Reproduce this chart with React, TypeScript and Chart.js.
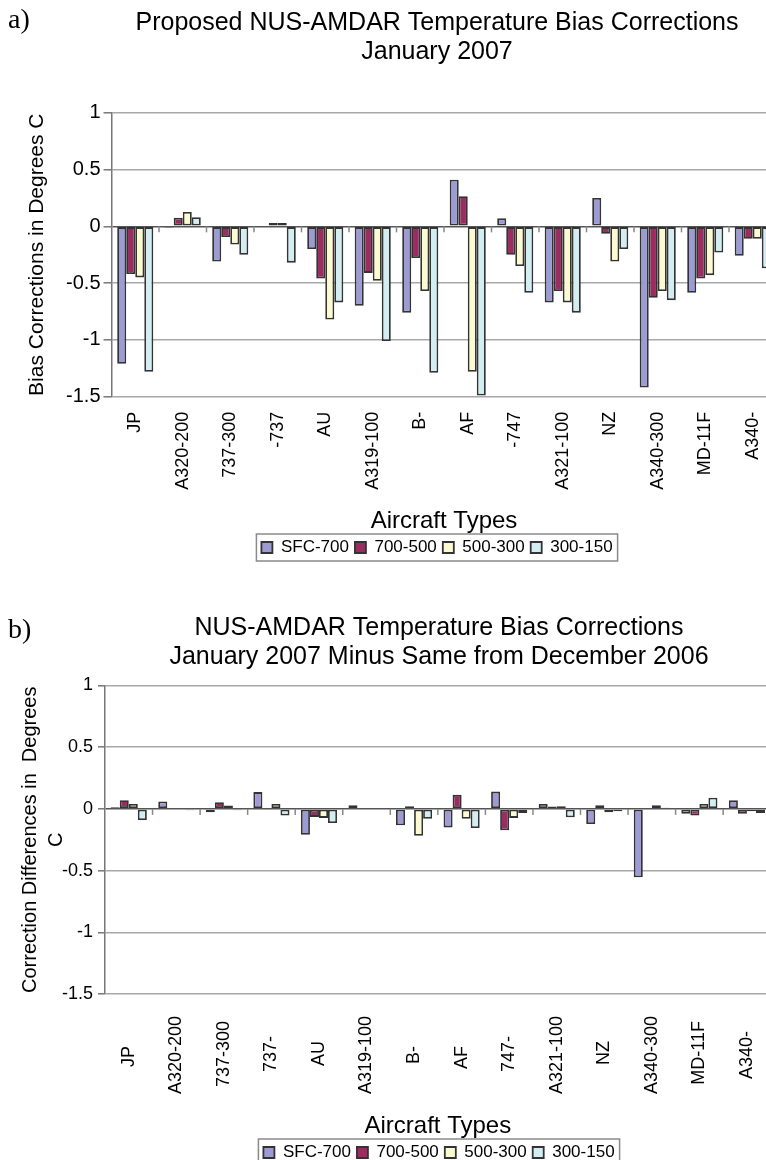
import React, { useEffect, useRef } from 'react';
import { Chart, registerables } from 'chart.js';
Chart.register(...registerables);

const FONT = "'Liberation Sans', Arial, Helvetica, sans-serif";
const SERIF = "'Liberation Serif', 'Times New Roman', serif";

// ---------- data ----------
const seriesNames = ['SFC-700', '700-500', '500-300', '300-150'];
const seriesColors = ['#9c9bd4', '#9b2c62', '#fcfad0', '#d2eef3'];

const categoriesA = ['JP', 'A320-200', '737-300', '-737', 'AU', 'A319-100', 'B-', 'AF', '-747', 'A321-100', 'NZ', 'A340-300', 'MD-11F', 'A340-'];
const sfc700A: (number | null)[] = [-1.21, -0.01, -0.31, null, -0.2, -0.7, -0.76, 0.41, 0.07, -0.67, 0.25, -1.42, -0.585, -0.26];
const p700500A: (number | null)[] = [-0.42, 0.076, -0.094, 0.03, -0.46, -0.41, -0.28, 0.265, -0.25, -0.57, -0.065, -0.63, -0.46, -0.11];
const p500300A: (number | null)[] = [-0.45, 0.126, -0.16, 0.03, -0.82, -0.48, -0.57, -1.28, -0.35, -0.67, -0.31, -0.57, -0.43, -0.11];
const p300150A: (number | null)[] = [-1.28, 0.08, -0.25, -0.32, -0.67, -1.01, -1.29, -1.49, -0.585, -0.76, -0.2, -0.65, -0.23, -0.37];

const categoriesB = ['JP', 'A320-200', '737-300', '737-', 'AU', 'A319-100', 'B-', 'AF', '747-', 'A321-100', 'NZ', 'A340-300', 'MD-11F', 'A340-'];
const sfc700B: (number | null)[] = [0.014, 0.06, -0.027, 0.136, -0.21, 0.03, -0.133, -0.15, 0.14, 0.04, -0.122, -0.554, -0.04, 0.07];
const p700500B: (number | null)[] = [0.07, null, 0.054, -0.005, -0.065, null, 0.022, 0.114, -0.174, 0.02, 0.03, null, -0.054, -0.04];
const p500300B: (number | null)[] = [0.04, null, 0.027, 0.04, -0.073, null, -0.217, -0.08, -0.073, 0.022, -0.027, 0.03, 0.04, -0.02];
const p300150B: (number | null)[] = [-0.09, -0.01, -0.01, -0.054, -0.114, null, -0.08, -0.155, -0.033, -0.068, -0.02, 0.01, 0.09, -0.033];

const titleA = ['Proposed NUS-AMDAR Temperature Bias Corrections', 'January 2007'];
const titleB = ['NUS-AMDAR Temperature Bias Corrections', 'January 2007 Minus Same from December 2006'];
const yTitleA = 'Bias Corrections in Degrees C';
const yTitleB = ['Correction Differences in  Degrees', 'C'];
const xTitle = 'Aircraft Types';
const yMin = -1.5;
const yMax = 1;
const yStep = 0.5;

interface PanelProps {
  labels: string[];
  data: (number | null)[][];
  titleLines: string[];
  tag: string;
  yTitle: string | string[];
  top: number;
  width: number;
  height: number;
  yAxisWidth: number;
  spacer: number;
  titlePadTop: number;
  titlePadBottom: number;
  xAxisHeight: number;
  yTitlePad: number;
  yTitleSize: number;
  yTitleLineHeight: number;
  yTickSize: number;
  tickLength: number;
  tickPadding: number;
  xLabelPadding: number;
  centerLabels: boolean;
  tagY: number;
}

function padLabels(labels: string[], font: string, center: boolean): string[] {
  if (!center) return labels;
  const ctx = document.createElement('canvas').getContext('2d');
  if (!ctx) return labels;
  ctx.font = font;
  const widths = labels.map((l) => ctx.measureText(l).width);
  const max = Math.max(...widths);
  const sp = ctx.measureText(' ').width || 5;
  return labels.map((l, i) => l + ' '.repeat(Math.max(0, Math.round((max - widths[i]) / 2 / sp))));
}

function Panel(p: PanelProps) {
  const ref = useRef<HTMLCanvasElement | null>(null);
  useEffect(() => {
    const canvas = ref.current;
    if (!canvas) return;
    const xFontSize = 18;
    const shown = padLabels(p.labels, `${xFontSize}px ${FONT}`, p.centerLabels);

    const deco = {
      id: 'deco',
      beforeDatasetsDraw(chart: any) {
        const ctx = chart.ctx;
        const xs = chart.scales.x;
        const ys = chart.scales.y;
        const y0 = ys.getPixelForValue(0);
        const n = p.labels.length;
        const step = (xs.right - xs.left) / n;
        ctx.save();
        ctx.strokeStyle = '#888';
        ctx.lineWidth = 1.5;
        for (let i = 1; i < n; i++) {
          const x = xs.left + i * step;
          ctx.beginPath();
          ctx.moveTo(x, y0);
          ctx.lineTo(x, y0 + 6);
          ctx.stroke();
        }
        ctx.restore();
      },
      afterDraw(chart: any) {
        const ctx = chart.ctx;
        const lg = chart.legend;
        const hb = lg && lg.legendHitBoxes;
        ctx.save();
        if (hb && hb.length) {
          let l = Infinity;
          let r = -Infinity;
          hb.forEach((h: any) => {
            l = Math.min(l, h.left);
            r = Math.max(r, h.left + h.width);
          });
          const t = hb[0].top;
          const h = hb[0].height;
          ctx.strokeStyle = '#8a8a8a';
          ctx.lineWidth = 1.5;
          ctx.strokeRect(l - 5, t - 5, r - l + 10, h + 10);
        }
        ctx.fillStyle = '#000';
        ctx.font = `28px ${SERIF}`;
        ctx.textBaseline = 'middle';
        ctx.textAlign = 'left';
        ctx.fillText(p.tag, 8, p.tagY);
        ctx.restore();
      },
    };

    const chart = new Chart(canvas, {
      type: 'bar',
      data: {
        labels: shown,
        datasets: seriesNames.map((name, i) => ({
          label: name,
          data: p.data[i],
          backgroundColor: seriesColors[i],
          borderColor: '#333333',
          borderWidth: 1.8,
          borderSkipped: false,
          categoryPercentage: 0.76,
          barPercentage: 1,
        })),
      },
      options: {
        responsive: false,
        animation: false,
        devicePixelRatio: 1,
        layout: { padding: 0 },
        plugins: {
          title: {
            display: true,
            text: p.titleLines,
            color: '#000',
            font: { family: FONT, size: 25, weight: 'normal', lineHeight: 1.16 },
            padding: { top: p.titlePadTop, bottom: p.titlePadBottom },
          },
          legend: {
            position: 'bottom',
            labels: {
              color: '#000',
              font: { family: FONT, size: 17 },
              boxWidth: 11,
              boxHeight: 11,
              padding: 6,
            },
          },
          tooltip: { enabled: false },
        },
        scales: {
          x: {
            grid: { display: false, drawTicks: false },
            border: { display: false },
            ticks: {
              autoSkip: false,
              minRotation: 90,
              maxRotation: 90,
              padding: p.xLabelPadding,
              color: '#000',
              font: { family: FONT, size: xFontSize },
            },
            title: {
              display: true,
              text: xTitle,
              color: '#000',
              font: { family: FONT, size: 24, lineHeight: 1 },
              padding: 0,
            },
            afterFit: (s: any) => {
              s.height = p.xAxisHeight;
            },
          },
          y: {
            min: yMin,
            max: yMax,
            ticks: {
              stepSize: yStep,
              color: '#000',
              padding: p.tickPadding,
              font: { family: FONT, size: p.yTickSize },
              callback: (v: any) => String(v),
            },
            grid: {
              color: (c: any) => (c.tick && c.tick.value === 0 ? '#555555' : '#a8a8a8'),
              lineWidth: 1.6,
              tickLength: p.tickLength,
              tickColor: '#777777',
              tickWidth: 1.5,
            },
            border: { color: '#777777', width: 1.5 },
            title: {
              display: true,
              text: p.yTitle,
              color: '#000',
              font: { family: FONT, size: p.yTitleSize, lineHeight: p.yTitleLineHeight },
              padding: { top: p.yTitlePad, bottom: 0 },
            },
            afterFit: (s: any) => {
              s.width = p.yAxisWidth;
            },
          },
          y2: {
            type: 'linear',
            position: 'right',
            display: true,
            grid: { display: false, drawTicks: false },
            border: { display: false },
            ticks: { display: false },
            afterFit: (s: any) => {
              s.width = p.spacer;
            },
          },
        },
      } as any,
      plugins: [deco],
    });
    return () => chart.destroy();
  }, []);

  return (
    <canvas
      ref={ref}
      width={p.width}
      height={p.height}
      style={{ position: 'absolute', left: 0, top: p.top, width: p.width, height: p.height }}
    />
  );
}

export default function App() {
  return (
    <div
      style={{
        position: 'fixed',
        left: 0,
        top: 0,
        width: 766,
        height: 1160,
        overflow: 'hidden',
        background: '#ffffff',
      }}
    >
      <Panel
        labels={categoriesA}
        data={[sfc700A, p700500A, p500300A, p300150A]}
        titleLines={titleA}
        tag="a)"
        yTitle={yTitleA}
        top={0}
        width={874}
        height={566}
        yAxisWidth={111.5}
        spacer={97.5}
        titlePadTop={8.5}
        titlePadBottom={46.2}
        xAxisHeight={136.3}
        yTitlePad={25}
        yTitleSize={21}
        yTitleLineHeight={1.2}
        yTickSize={20}
        tickLength={8}
        tickPadding={3}
        xLabelPadding={15}
        centerLabels={false}
        tagY={21}
      />
      <Panel
        labels={categoriesB}
        data={[sfc700B, p700500B, p500300B, p300150B]}
        titleLines={titleB}
        tag="b)"
        yTitle={yTitleB}
        top={570}
        width={878}
        height={601}
        yAxisWidth={105}
        spacer={107.3}
        titlePadTop={43.5}
        titlePadBottom={14}
        xAxisHeight={144}
        yTitlePad={17}
        yTitleSize={20}
        yTitleLineHeight={1.3}
        yTickSize={18}
        tickLength={7}
        tickPadding={5}
        xLabelPadding={22}
        centerLabels={true}
        tagY={61}
      />
    </div>
  );
}
